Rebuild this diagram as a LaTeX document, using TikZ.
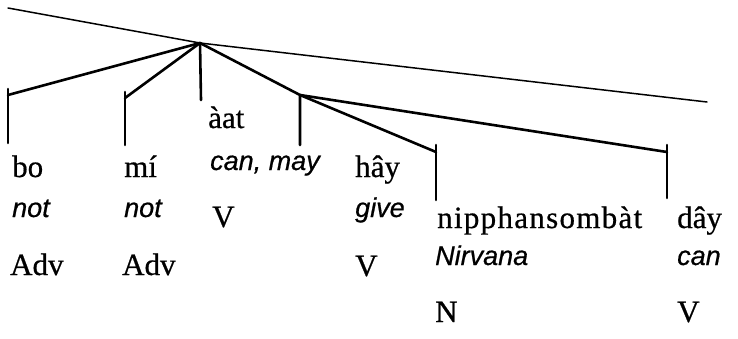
\documentclass[tikz,border=0pt]{standalone}
\usepackage{fontspec}
\setmainfont{Liberation Serif}[FakeBold=0.6]
\newfontfamily\glossfont{Liberation Sans}[FakeBold=0.6]
\newlength\nipw
\newlength\nipk
\begin{document}
\begin{tikzpicture}[x=1pt,y=-1pt,
  word/.style={anchor=base west,inner sep=0pt,font=\fontsize{31}{31}\selectfont},
  gloss/.style={anchor=base west,inner sep=0pt,font=\glossfont\itshape\fontsize{27}{27}\selectfont},
  branch/.style={line width=2.6pt,line cap=round,line join=round},
  thin/.style={line width=1.5pt,line cap=round}]
\useasboundingbox (0,0) rectangle (738,338);
% tree skeleton
\coordinate (root) at (200,43);
\coordinate (lstart) at (8,8);
\coordinate (lend) at (707,102);
\coordinate (botop) at (8,89);   \coordinate (bojoin) at (8,95);   \coordinate (bobot) at (8,143);
\coordinate (mitop) at (125,92); \coordinate (mijoin) at (125,98); \coordinate (mibot) at (125,145);
\coordinate (aatbot) at (201,100);
\coordinate (vp) at (300,95);    \coordinate (vpbot) at (300,145);
\coordinate (ntop) at (436,145); \coordinate (njoin) at (436,152); \coordinate (nbot) at (436,200);
\coordinate (dtop) at (667,145); \coordinate (djoin) at (667,152); \coordinate (dbot) at (667,198);
% thin line
\draw[thin] (lstart) -- (root) -- (lend);
% branches
\draw[branch] (root) -- (bojoin);
\draw[branch] (botop) -- (bobot);
\draw[branch] (root) -- (mijoin);
\draw[branch] (mitop) -- (mibot);
\draw[branch] (root) -- (aatbot);
\draw[branch] (root) -- (vp) -- (vpbot);
\draw[branch] (vp) -- (njoin);
\draw[branch] (ntop) -- (nbot);
\draw[branch] (vp) -- (djoin);
\draw[branch] (dtop) -- (dbot);
% words
\node[word] (bo) at (12,177) {bo};
\node[gloss] (bog) at (12,217) {not};
\node[word] (boc) at (10,275) {Adv};
\node[word] (mi) at (124,177) {mí};
\node[gloss] (mig) at (124,217) {not};
\node[word] (mic) at (122,275) {Adv};
\node[word] (aat) at (208,128) {àat};
\node[gloss] (aatg) at (210,170) {can, may};
\node[word] (aatc) at (212,227) {V};
\node[word] (hay) at (355,177) {hây};
\node[gloss] (hayg) at (355,217) {give};
\node[word] (hayc) at (355,276) {V};
\node[word] (nip) at (437,228) {\settowidth{\nipw}{nipphansombàt}\setlength{\nipk}{\dimexpr(205pt-\nipw)/12\relax}n\kern\nipk i\kern\nipk p\kern\nipk p\kern\nipk h\kern\nipk a\kern\nipk n\kern\nipk s\kern\nipk o\kern\nipk m\kern\nipk b\kern\nipk à\kern\nipk t};
\node[gloss] (nipg) at (435,265) {Nirvana};
\node[word] (nipc) at (435,322) {N};
\node[word] (day) at (677,228) {dây};
\node[gloss] (dayg) at (677,265) {can};
\node[word] (dayc) at (677,322) {V};
\end{tikzpicture}
\end{document}
